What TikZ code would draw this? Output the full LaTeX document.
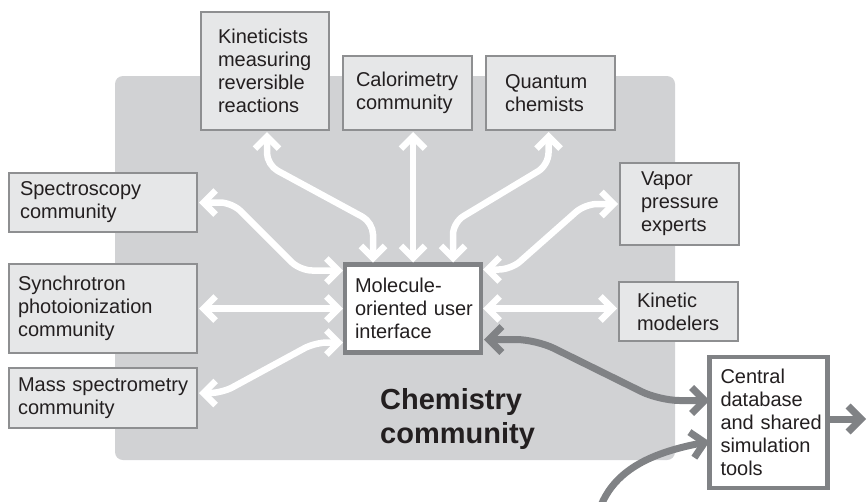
\documentclass[tikz,border=0pt]{standalone}
\usepackage{fontspec}
\setmainfont{Liberation Sans}
\usetikzlibrary{arrows.meta,calc}
\definecolor{bggray}{HTML}{D1D2D4}
\definecolor{boxfill}{HTML}{E6E7E8}
\definecolor{boxline}{HTML}{8E8F91}
\definecolor{darkline}{HTML}{808285}
\definecolor{txt}{HTML}{231F20}
\begin{document}
\begin{tikzpicture}[x=1pt,y=-1pt,
  comm/.style={draw=boxline, fill=boxfill, line width=1.5pt, rectangle, align=left,
    font=\fontsize{20}{23}\selectfont, text=txt, inner ysep=0pt, outer sep=0pt},
  hub/.style={draw=darkline, fill=white, line width=4.5pt, rectangle, align=left,
    font=\fontsize{20}{23}\selectfont, text=txt, inner ysep=0pt, outer sep=0pt},
  wlink/.style={draw=white, line width=6.5pt, rounded corners=12pt,
    {Straight Barb[length=12pt,width=24pt]}-{Straight Barb[length=12pt,width=24pt]},
    shorten <=2pt, shorten >=2pt},
  dlink/.style={draw=darkline, line width=7pt, rounded corners=20pt}
]
\useasboundingbox (0,0) rectangle (867,501);
\fill[bggray, rounded corners=8pt] (115,76) rectangle (675,460);

\node[comm, minimum width=128pt, minimum height=118pt, inner xsep=17pt, text width=94pt] (kin) at (265,71) {Kineticists\\measuring\\reversible\\reactions};
\node[comm, minimum width=129pt, minimum height=74pt, inner xsep=13pt, text width=103pt] (cal) at (407.5,93) {Calorimetry\\community};
\node[comm, minimum width=129pt, minimum height=74pt, inner xsep=19pt, text width=91pt] (qua) at (550.5,93) {Quantum\\chemists};
\node[comm, minimum width=188pt, minimum height=59pt, inner xsep=11pt, text width=166pt] (spe) at (103,202.5) {Spectroscopy\\community};
\node[comm, minimum width=188pt, minimum height=89pt, inner xsep=9pt, text width=170pt] (syn) at (103,308.5) {Synchrotron\\photoionization\\community};
\node[comm, minimum width=188pt, minimum height=60pt, inner xsep=9pt, text width=170pt] (mas) at (103,398) {\mbox{Mass spectrometry}\\community};
\node[comm, minimum width=119pt, minimum height=82pt, inner xsep=21pt, text width=77pt] (vap) at (679.5,204) {Vapor\\pressure\\experts};
\node[comm, minimum width=119pt, minimum height=59pt, inner xsep=18pt, text width=83pt] (kmo) at (678.5,311.5) {Kinetic\\modelers};
\node[hub, minimum width=136pt, minimum height=88pt, inner xsep=10pt, text width=116pt] (mol) at (413,308.5) {Molecule-\\\mbox{oriented user}\\interface};
\node[hub, minimum width=118pt, minimum height=131pt, inner xsep=11pt, text width=96pt] (cen) at (768.5,422.5) {Central\\database\\\mbox{and shared}\\simulation\\tools};

\node[anchor=west, inner sep=0pt, align=left, text=txt, font=\fontsize{29}{34}\selectfont\bfseries] (chem) at (380,418.5) {Chemistry\\community};

% white links
\draw[wlink] ([xshift=2pt]kin.south) -- ++(0,35) -- ([xshift=-40pt,yshift=42pt]mol.north) -- ([xshift=-40pt]mol.north);
\draw[wlink] (mol.north |- cal.south) -- (mol.north);
\draw[wlink] ([xshift=-2pt]qua.south) -- ++(0,35) -- ([xshift=40pt,yshift=42pt]mol.north) -- ([xshift=40pt]mol.north);
\draw[wlink] (spe.east) -- ++(35,0) -- ([xshift=-45pt,yshift=-6pt]mol.north west) -- ([yshift=-6pt]mol.north west);
\draw[wlink] (syn.east) -- (syn.east -| mol.west);
\draw[wlink] ([yshift=5pt]mas.east) -- ++(25,0) -- ([xshift=-30pt,yshift=10pt]mol.south west) -- ([yshift=10pt]mol.south west);
\draw[wlink] (vap.west) -- ++(-35,0) -- ([xshift=30pt,yshift=-5pt]mol.north east) -- ([yshift=-5pt]mol.north east);
\draw[wlink] (mol.east) -- (mol.east -| kmo.west);

% dark links
\coordinate (src) at (600,508);
\coordinate (dst) at (866,419);
\draw[dlink, {Straight Barb[length=13pt,width=26pt]}-{Straight Barb[length=13pt,width=26pt]}, shorten <=3pt]
  ([yshift=13pt]mol.south east) -- ++(55,0) -- ([xshift=-50pt,yshift=22pt]cen.west) -- ([yshift=22pt]cen.west);
\draw[dlink, -{Straight Barb[length=13pt,width=26pt]}] (src) .. controls (615,468) and (655,452) .. ([yshift=-19pt]cen.west);
\draw[dlink, -{Straight Barb[length=13pt,width=26pt]}] ([yshift=3.5pt]cen.east) -- (dst);
\end{tikzpicture}
\end{document}
